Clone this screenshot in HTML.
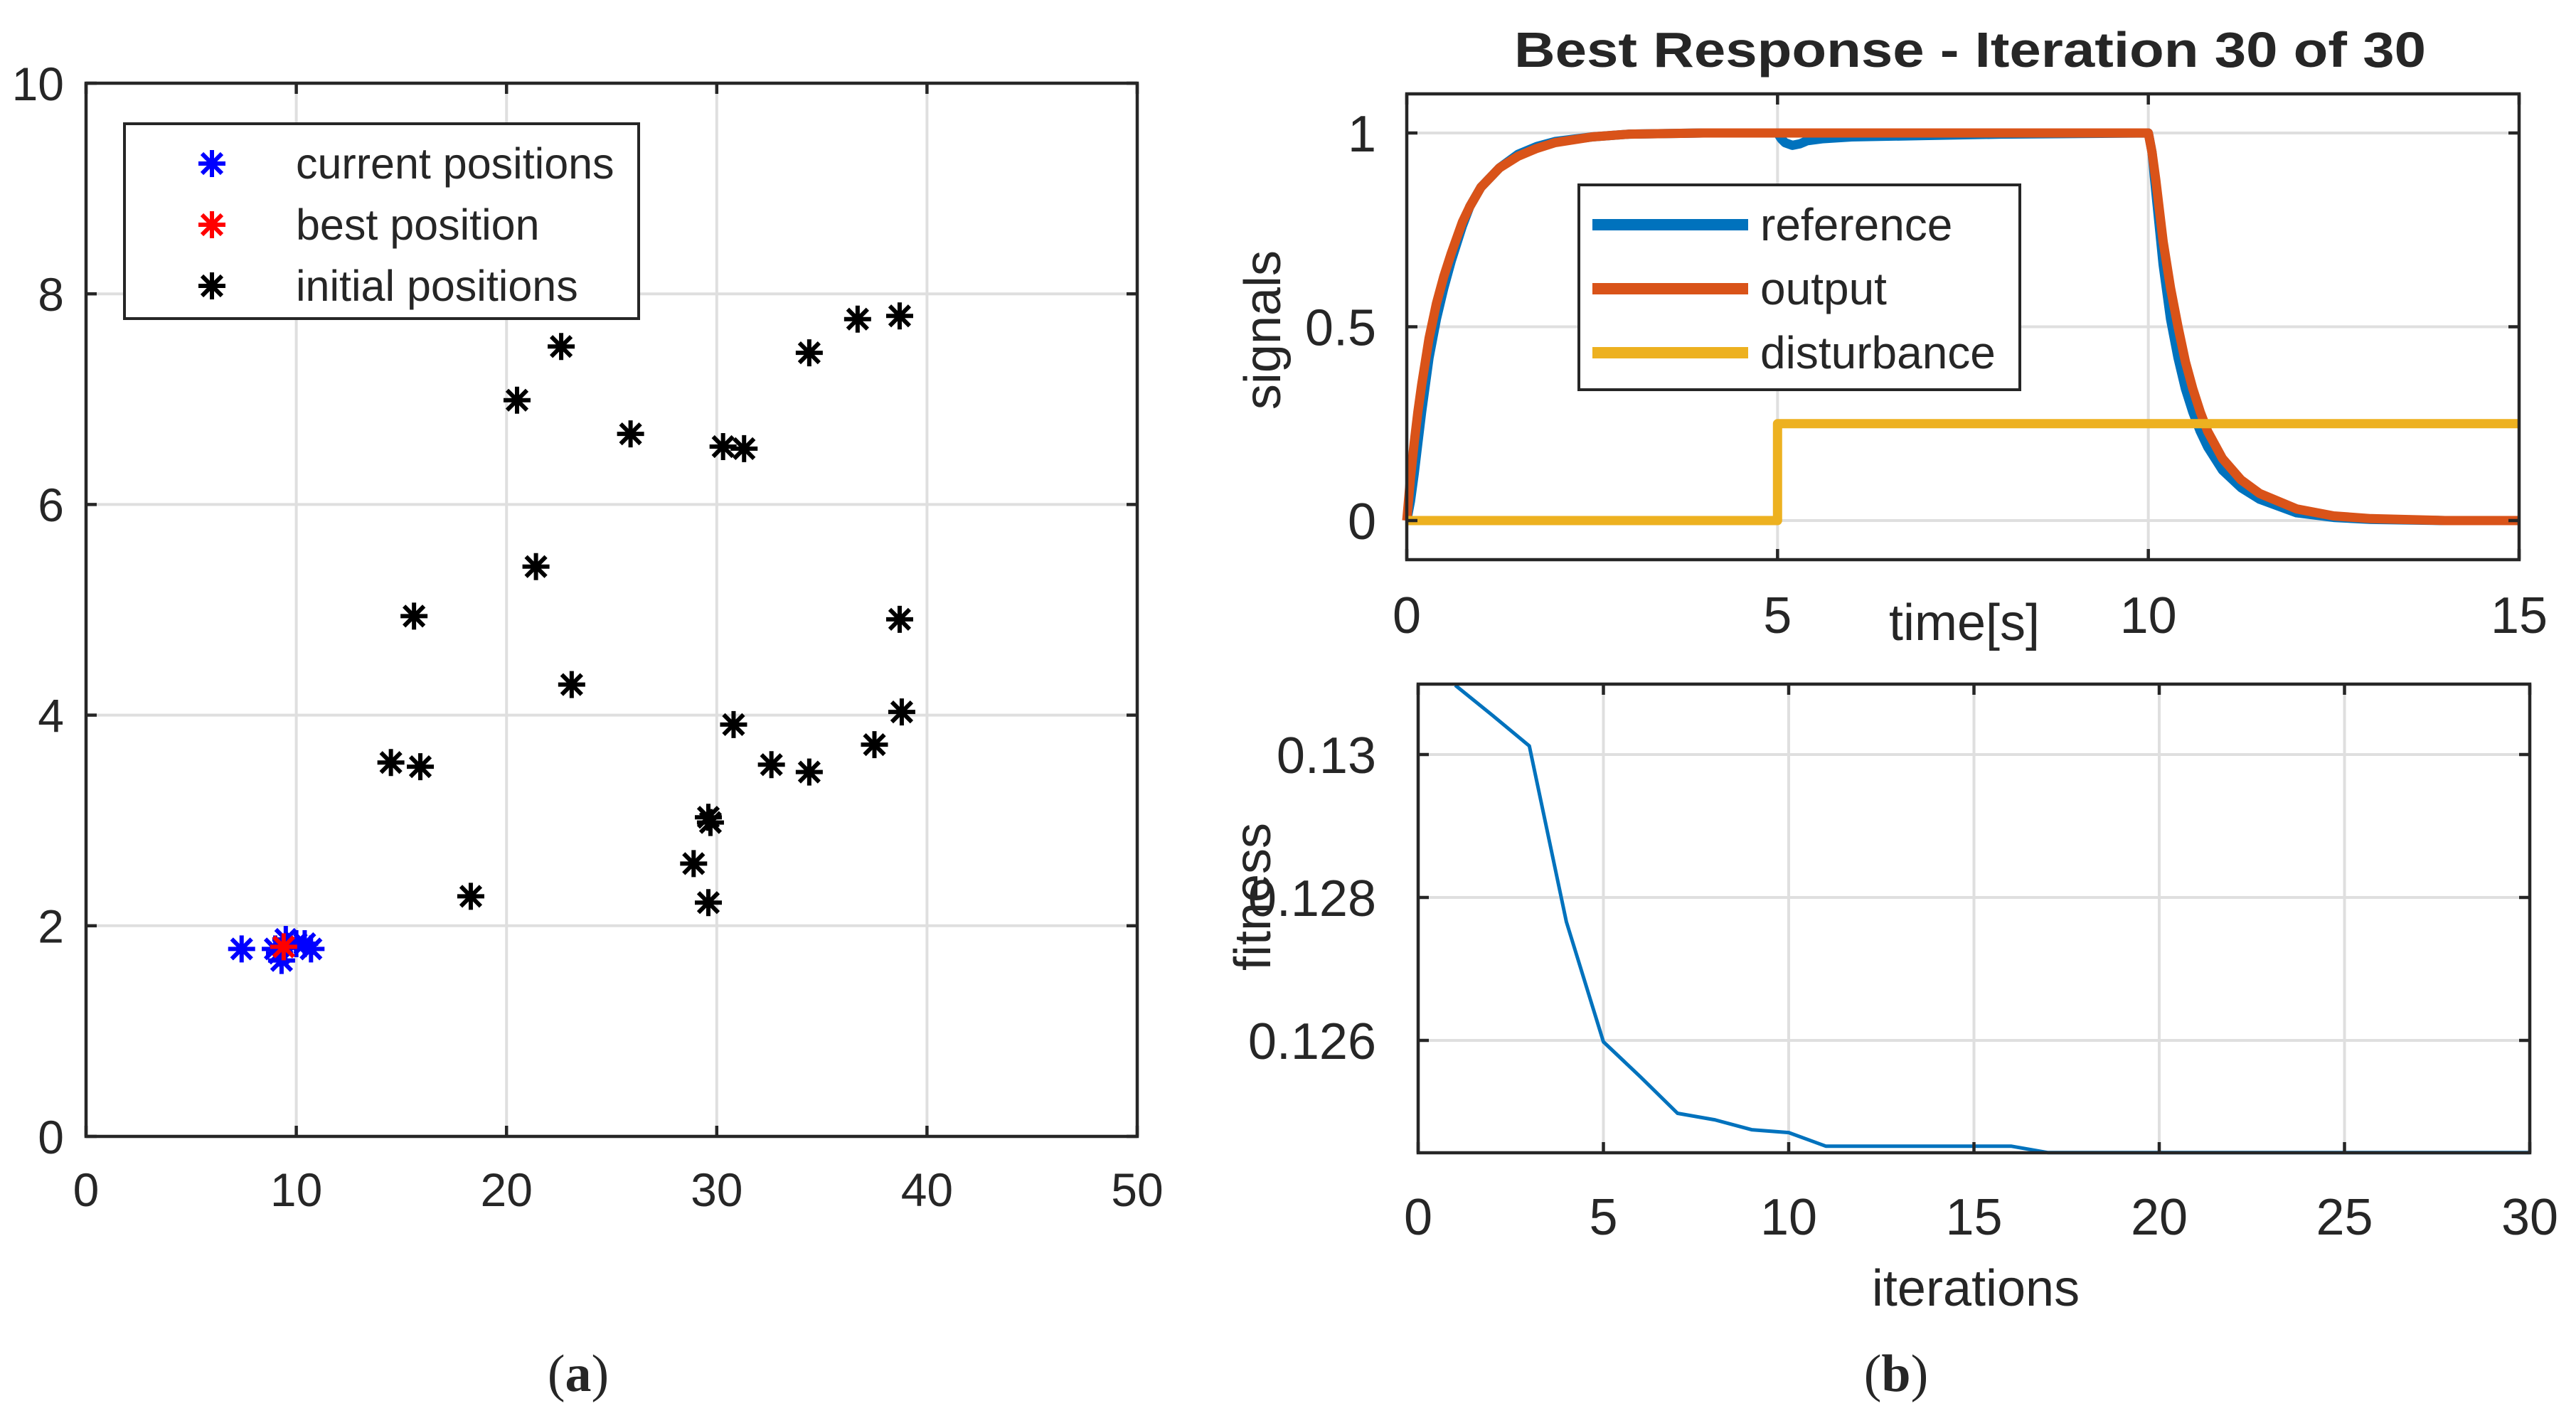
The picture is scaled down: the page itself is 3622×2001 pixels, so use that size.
<!DOCTYPE html>
<html><head><meta charset="utf-8"><style>
html,body{margin:0;padding:0;background:#fff;}
svg{display:block;}
text{font-family:"Liberation Sans",Arial,sans-serif;fill:#262626;}
</style></head><body>
<svg id="fig" width="3622" height="2001" viewBox="0 0 3622 2001" xmlns="http://www.w3.org/2000/svg">
<g id="pa"></g>
<g id="pb"></g>
<g id="pc"></g>
<text x="813" y="1956" text-anchor="middle" font-size="74" style="font-family:'Liberation Serif',serif">(<tspan font-weight="bold">a</tspan>)</text>
<text x="2666" y="1956" text-anchor="middle" font-size="74" style="font-family:'Liberation Serif',serif">(<tspan font-weight="bold">b</tspan>)</text>
</svg>
<script>
// ---- scatter data ----
const initX=[20.5,22.6,25.9,30.3,31.3,34.4,36.7,38.7,21.4,15.6,23.1,38.7,38.8,37.5,30.8,32.6,34.4,14.5,15.9,29.6,29.7,28.9,29.6,18.3];
const initY=[6.99,7.5,6.67,6.55,6.53,7.44,7.76,7.79,5.41,4.94,4.29,4.91,4.03,3.72,3.91,3.53,3.46,3.55,3.51,3.03,2.98,2.59,2.22,2.28];
const curX=[7.4,9.0,9.5,9.3,10.0,10.7,10.4,9.2];
const curY=[1.78,1.78,1.87,1.67,1.83,1.78,1.83,1.74];
const bestX=[9.4];
const bestY=[1.80];
const xTicksA=[0,10,20,30,40,50];
const yTicksA=[0,2,4,6,8,10];
// ---- response data ----
const tRef=[0,0.05,0.1,0.15,0.2,0.3,0.4,0.5,0.6,0.75,0.85,1,1.25,1.5,1.75,2,2.5,3,4,5,5.05,5.1,5.2,5.3,5.4,5.6,6,8,10,10.05,10.1,10.2,10.3,10.4,10.5,10.6,10.7,10.8,11,11.25,11.5,12,12.5,13,14,15];
const yRef=[0,0.05,0.12,0.2,0.28,0.42,0.52,0.6,0.67,0.76,0.81,0.86,0.91,0.945,0.965,0.978,0.99,0.997,1,1,0.985,0.975,0.968,0.972,0.98,0.985,0.99,0.997,1,0.95,0.85,0.66,0.52,0.42,0.34,0.28,0.23,0.19,0.13,0.085,0.055,0.02,0.008,0.003,0,0];
const tOut=[0,0.05,0.1,0.15,0.2,0.3,0.4,0.5,0.6,0.75,0.85,1,1.25,1.5,1.75,2,2.5,3,4,5,10,10.05,10.1,10.2,10.3,10.4,10.5,10.6,10.7,10.8,11,11.25,11.5,12,12.5,13,14,15];
const yOut=[0,0.11,0.2,0.28,0.35,0.47,0.56,0.63,0.69,0.77,0.81,0.86,0.91,0.94,0.96,0.975,0.99,0.997,1,1,1,0.95,0.88,0.72,0.6,0.5,0.41,0.34,0.28,0.23,0.16,0.105,0.07,0.03,0.012,0.005,0,0];
const tDist=[0,5,5,15];
const yDist=[0,0,0.25,0.25];
const xTicksB=[0,5,10,15];
const yTicksB=[0,0.5,1];
const yTickLabelsB=["0","0.5","1"];
// ---- fitness data ----
const iters=[1,2,3,4,5,6,7,8,9,10,11,12,13,14,15,16,17,18,19,20,21,22,23,24,25,26,27,28,29,30];
const fitness=[0.13097,0.13055,0.13012,0.12766,0.12598,0.12549,0.12498,0.12489,0.12475,0.12471,0.12452,0.12452,0.12452,0.12452,0.12452,0.12452,0.12443,0.12443,0.12443,0.12443,0.12443,0.12443,0.12443,0.12443,0.12443,0.12443,0.12443,0.12443,0.12443,0.12443];
const xTicksC=[0,5,10,15,20,25,30];
const yTicksC=[0.126,0.128,0.13];

const NS="http://www.w3.org/2000/svg";
function mk(parent,tag,attrs,txt){const e=document.createElementNS(NS,tag);for(const k in attrs)e.setAttribute(k,attrs[k]);if(txt!==undefined)e.textContent=txt;parent.appendChild(e);return e;}
function scale(d0,d1,r0,r1){return v=>r0+(v-d0)/(d1-d0)*(r1-r0);}

function axesFrame(g,L,T,R,B,sx,sy,xt,yt){
  for(const v of xt){const x=sx(v);const l=mk(g,'line',{x1:x,y1:T,x2:x,y2:B,stroke:'#dfdfdf','stroke-width':4});
    
    }
  for(const v of yt){const y=sy(v);const l=mk(g,'line',{x1:L,y1:y,x2:R,y2:y,stroke:'#dfdfdf','stroke-width':4});
    
    }
}
function axesTop(g,L,T,R,B,sx,sy,xt,yt,ytl,fs,xlabY,ylabX){
  const fr=mk(g,'rect',{x:L,y:T,width:R-L,height:B-T,fill:'none',stroke:'#262626','stroke-width':4.5});
  
  
  for(const v of xt){const x=sx(v);
    mk(g,'line',{x1:x,y1:B,x2:x,y2:B-15,stroke:'#262626','stroke-width':4.5});
    mk(g,'line',{x1:x,y1:T,x2:x,y2:T+15,stroke:'#262626','stroke-width':4.5});
    const t=mk(g,'text',{x:x,y:xlabY,'text-anchor':'middle','font-size':fs},String(v));
    
    }
  yt.forEach((v,i)=>{const y=sy(v);
    mk(g,'line',{x1:L,y1:y,x2:L+15,y2:y,stroke:'#262626','stroke-width':4.5});
    mk(g,'line',{x1:R,y1:y,x2:R-15,y2:y,stroke:'#262626','stroke-width':4.5});
    const t=mk(g,'text',{x:ylabX,y:y+fs*0.36,'text-anchor':'end','font-size':fs},ytl?ytl[i]:String(v));
    
    });
}
function star(g,x,y,col,name){
  const s=19,d=14;
  const p=mk(g,'path',{d:`M${x-s},${y}H${x+s}M${x},${y-s}V${y+s}M${x-d},${y-d}L${x+d},${y+d}M${x-d},${y+d}L${x+d},${y-d}`,stroke:col,'stroke-width':6,fill:'none'});
  
  
}
function poly(g,xs,ys,sx,sy,col,w,name){
  const pts=xs.map((v,i)=>sx(v).toFixed(1)+','+sy(ys[i]).toFixed(1)).join(' ');
  const p=mk(g,'polyline',{points:pts,fill:'none',stroke:col,'stroke-width':w,'stroke-linejoin':'round'});
  
  
}

// Panel A
(function(){
  const g=document.getElementById('pa');
  const L=121,T=117,R=1599,B=1598;
  const sx=scale(0,50,L,R),sy=scale(0,10,B,T);
  axesFrame(g,L,T,R,B,sx,sy,xTicksA,yTicksA);
  initX.forEach((v,i)=>star(g,sx(v),sy(initY[i]),'#000','initial-position-marker'));
  curX.forEach((v,i)=>star(g,sx(v),sy(curY[i]),'#0000ff','current-position-marker'));
  bestX.forEach((v,i)=>star(g,sx(v),sy(bestY[i]),'#ff0000','best-position-marker'));
  axesTop(g,L,T,R,B,sx,sy,xTicksA,yTicksA,null,66,1696,90);
  const lg=mk(g,'g',{});
  
  
  mk(lg,'rect',{x:175,y:174,width:723,height:274,fill:'#fff',stroke:'#262626','stroke-width':4});
  const ent=[['current positions','#0000ff'],['best position','#ff0000'],['initial positions','#000']];
  ent.forEach((e,i)=>{const y=230+i*86;
    star(lg,298,y,e[1],'legend-marker');
    const t=mk(lg,'text',{x:416,y:y+21,'font-size':61,fill:'#000'},e[0]);
    
    });
})();

// Panel B
(function(){
  const g=document.getElementById('pb');
  const L=1978,T=132,R=3542,B=787;
  const sx=scale(0,15,L,R),sy=scale(0,1,732,187);
  axesFrame(g,L,T,R,B,sx,sy,xTicksB,yTicksB);
  const cp=mk(g,'clipPath',{id:'cb'});mk(cp,'rect',{x:L-10,y:T,width:R-L+10,height:B-T});
  const cg=mk(g,'g',{'clip-path':'url(#cb)'});
  poly(cg,tRef,yRef,sx,sy,'#0072BD',13,'reference-line');
  poly(cg,tOut,yOut,sx,sy,'#D95319',13,'output-line');
  poly(cg,tDist,yDist,sx,sy,'#EDB120',13,'disturbance-line');
  axesTop(g,L,T,R,B,sx,sy,xTicksB,yTicksB,yTickLabelsB,72,890,1935);
  const tt=mk(g,'text',{x:2770,y:94,'text-anchor':'middle','font-size':70,'font-weight':'bold',fill:'#000',textLength:1282,lengthAdjust:'spacingAndGlyphs'},'Best Response - Iteration 30 of 30');
  
  
  const xl=mk(g,'text',{x:2762,y:900,'text-anchor':'middle','font-size':72},'time[s]');
  
  
  const yl=mk(g,'text',{x:0,y:0,'text-anchor':'middle','font-size':72,transform:'translate(1800,464) rotate(-90)'},'signals');
  
  
  const lg=mk(g,'g',{});
  
  
  mk(lg,'rect',{x:2220,y:260,width:620,height:288,fill:'#fff',stroke:'#262626','stroke-width':4});
  const ent=[['reference','#0072BD'],['output','#D95319'],['disturbance','#EDB120']];
  ent.forEach((e,i)=>{const y=316+i*90;
    mk(lg,'line',{x1:2239,y1:y,x2:2458,y2:y,stroke:e[1],'stroke-width':16});
    const t=mk(lg,'text',{x:2475,y:y+22,'font-size':64,fill:'#000'},e[0]);
    
    });
})();

// Panel C
(function(){
  const g=document.getElementById('pc');
  const L=1994,T=962,R=3557,B=1621;
  const sx=scale(0,30,L,R),sy=scale(0.13,0.128,1061,1262);
  axesFrame(g,L,T,R,B,sx,sy,xTicksC,yTicksC);
  const cp=mk(g,'clipPath',{id:'cc'});mk(cp,'rect',{x:L,y:T,width:R-L,height:B-T+3});
  const cg=mk(g,'g',{'clip-path':'url(#cc)'});
  poly(cg,iters,fitness,sx,sy,'#0072BD',5,'fitness-line');
  axesTop(g,L,T,R,B,sx,sy,xTicksC,yTicksC,null,72,1736,1935);
  const xl=mk(g,'text',{x:2778,y:1836,'text-anchor':'middle','font-size':72},'iterations');
  
  
  const yl=mk(g,'text',{x:0,y:0,'text-anchor':'middle','font-size':72,transform:'translate(1786,1261) rotate(-90)'},'fitness');
  
  
})();
</script>
</body></html>
